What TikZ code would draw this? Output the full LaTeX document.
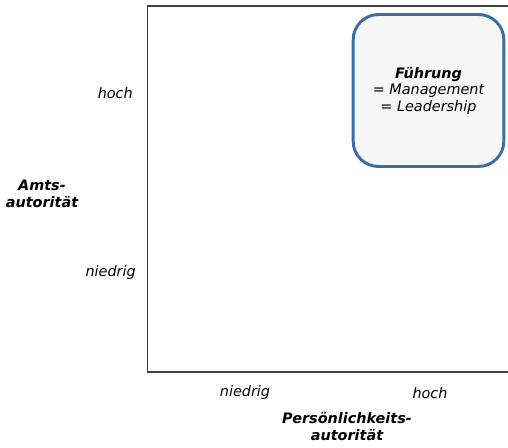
\documentclass[tikz,border=0pt]{standalone}
\usepackage{fontspec}
\setmainfont{DejaVu Sans}
\begin{document}
\begin{tikzpicture}[x=0.75pt,y=-0.75pt,
  lbl/.style={font=\fontsize{10.8}{12.5}\selectfont\itshape, inner sep=0pt},
  axtitle/.style={font=\fontsize{10.8}{12.75}\selectfont\bfseries\itshape, align=center, inner sep=0pt},
  frameline/.style={draw=black!75, line width=1.2pt},
  quadrant/.style={draw={rgb,255:red,58;green,110;blue,165}, fill=black!3, line width=2.2pt,
    rounded corners=19pt, minimum width=113pt, minimum height=114pt, align=center,
    font=\fontsize{10.8}{12.4}\selectfont\itshape}]
  \useasboundingbox (0,0) rectangle (508,448);
  % portfolio frame (open to the right)
  \coordinate (tr) at (510,6);
  \coordinate (tl) at (147.5,6);
  \coordinate (bl) at (147.5,372);
  \coordinate (br) at (510,372);
  \draw[frameline] (tr) -- (tl) -- (bl) -- (br);
  % upper right quadrant
  \node[quadrant] (box) at (428.5,90.5) {\textbf{Führung}\\= Management\\= Leadership};
  % vertical axis
  \node[lbl, anchor=east] (yhigh) at (133,93) {hoch};
  \node[lbl, anchor=east] (ylow) at (136,273) {niedrig};
  \node[axtitle] (ytitle) at (42,194) {Amts-\\autorität};
  % horizontal axis
  \node[lbl] (xlow) at (245,393) {niedrig};
  \node[lbl] (xhigh) at (430,393) {hoch};
  \node[axtitle] (xtitle) at (347,427) {Persönlichkeits-\\autorität};
\end{tikzpicture}
\end{document}
